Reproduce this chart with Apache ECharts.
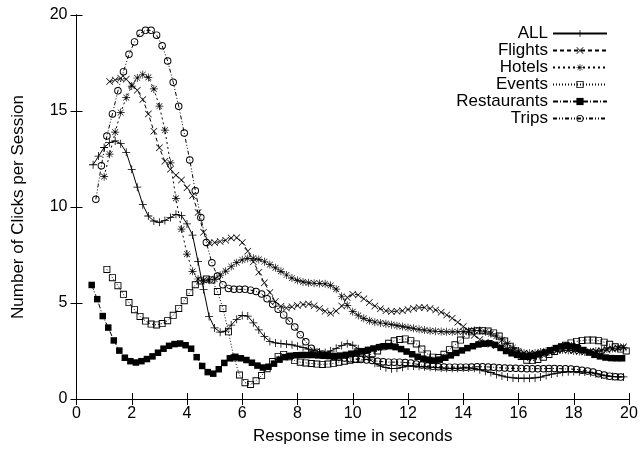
<!DOCTYPE html>
<html>
<head>
<meta charset="utf-8">
<script src="https://cdn.jsdelivr.net/npm/echarts@6/dist/echarts.min.js"></script>
<style>
html,body{margin:0;padding:0;background:#fff;}
#chart{width:642px;height:455px;}
</style>
</head>
<body>
<div id="chart"></div>
<script>
// ---- Data ----
const seriesNames = ['ALL', 'Flights', 'Hotels', 'Events', 'Restaurants', 'Trips'];
const xTicks = [0, 2, 4, 6, 8, 10, 12, 14, 16, 18, 20];
const yTicks = [0, 5, 10, 15, 20];

// Samples are evenly spaced (0.2 s) from each series' first x
const sampleStep = 0.2;
const allStart = 0.6;
const allValues = [12.2,12.65,13.1,13.35,13.44,13.3,12.85,11.96,11.03,10.12,9.53,9.27,9.2,9.3,9.45,9.62,9.55,9.12,8.54,7.15,
5.7,4.3,3.7,3.48,3.53,3.85,4.15,4.35,4.32,3.97,3.6,3.25,3.0,2.92,2.88,2.86,2.82,2.75,2.68,2.6,
2.53,2.45,2.42,2.5,2.64,2.78,2.88,2.8,2.62,2.36,2.08,1.86,1.72,1.63,1.58,1.6,1.66,1.72,1.72,1.7,
1.68,1.66,1.64,1.62,1.6,1.6,1.6,1.62,1.62,1.6,1.52,1.45,1.38,1.28,1.2,1.14,1.1,1.08,1.08,1.08,
1.1,1.14,1.22,1.3,1.35,1.39,1.42,1.43,1.42,1.4,1.37,1.32,1.25,1.2,1.17,1.15,1.15];

const flightsStart = 1.2;
const flightsValues = [16.53,16.62,16.7,16.66,16.37,16.08,15.6,14.85,13.95,13.08,12.38,11.96,11.66,11.4,11.0,10.6,9.72,8.68,8.12,8.15,
8.2,8.27,8.38,8.4,8.15,7.7,7.15,6.6,6.05,5.55,5.08,4.83,4.74,4.8,4.87,4.92,4.95,4.86,4.72,4.57,
4.47,4.58,4.85,5.28,5.46,5.42,5.22,5.02,4.84,4.7,4.6,4.56,4.57,4.6,4.66,4.72,4.76,4.76,4.72,4.63,
4.52,4.38,4.2,4.0,3.78,3.55,3.32,3.1,2.95,2.85,2.78,2.7,2.6,2.5,2.42,2.38,2.36,2.36,2.38,2.42,
2.47,2.52,2.55,2.55,2.52,2.48,2.45,2.45,2.47,2.5,2.55,2.6,2.66,2.72];

const hotelsStart = 1.0;
const hotelsValues = [11.58,12.75,13.9,14.92,15.7,16.3,16.72,16.9,16.75,16.15,15.25,14.0,12.3,10.45,8.85,7.55,6.65,6.25,6.18,6.2,
6.25,6.45,6.66,6.9,7.1,7.25,7.32,7.33,7.27,7.15,7.0,6.83,6.65,6.46,6.3,6.18,6.1,6.05,6.03,6.02,
6.0,5.92,5.72,5.35,4.88,4.55,4.35,4.2,4.08,4.0,3.96,3.92,3.87,3.82,3.77,3.72,3.68,3.63,3.59,3.55,
3.53,3.51,3.5,3.5,3.5,3.51,3.54,3.57,3.58,3.5,3.4,3.28,3.08,2.88,2.68,2.5,2.4,2.38,2.4,2.45,
2.5,2.53,2.55,2.55,2.53,2.5,2.47,2.45,2.46,2.5,2.55,2.6,2.63,2.65,2.68];

const eventsStart = 1.1;
const eventsValues = [6.75,6.32,5.9,5.45,5.02,4.65,4.3,4.06,3.9,3.86,3.93,4.08,4.36,4.72,5.12,5.55,5.95,6.15,6.25,6.2,
5.6,4.72,3.5,2.15,1.25,0.85,0.76,0.95,1.22,1.58,1.95,2.22,2.32,2.2,2.0,1.92,1.88,1.85,1.82,1.8,
1.82,1.86,1.92,1.97,2.02,2.06,2.13,2.22,2.36,2.5,2.72,2.9,3.03,3.1,3.13,3.04,2.87,2.6,2.35,2.18,
2.16,2.33,2.57,2.82,3.07,3.33,3.5,3.55,3.56,3.54,3.44,3.28,3.02,2.75,2.5,2.22,2.02,2.0,2.06,2.18,
2.32,2.48,2.64,2.8,2.92,3.0,3.05,3.07,3.07,3.04,2.96,2.85,2.72,2.6,2.5];

const restaurantsStart = 0.55;
const restaurantsValues = [5.94,5.2,4.32,3.72,3.05,2.52,2.15,1.97,1.9,1.97,2.08,2.22,2.41,2.62,2.77,2.86,2.89,2.8,2.62,2.18,
1.72,1.4,1.32,1.55,1.88,2.12,2.2,2.12,2.03,1.89,1.74,1.64,1.68,1.84,2.05,2.18,2.25,2.28,2.29,2.29,
2.29,2.27,2.25,2.24,2.24,2.26,2.3,2.36,2.42,2.49,2.56,2.63,2.7,2.75,2.75,2.7,2.6,2.47,2.33,2.2,
2.1,2.03,2.0,2.05,2.15,2.27,2.4,2.53,2.65,2.75,2.84,2.88,2.9,2.82,2.66,2.5,2.38,2.3,2.22,2.2,
2.24,2.32,2.42,2.54,2.65,2.74,2.78,2.74,2.65,2.55,2.42,2.3,2.22,2.16,2.13,2.12,2.12];

const tripsStart = 0.7;
const tripsValues = [10.4,12.15,13.7,14.85,16.05,17.05,17.95,18.6,19.05,19.2,19.2,18.95,18.4,17.6,16.5,15.25,13.85,12.45,10.85,9.45,
8.15,7.1,6.4,5.95,5.76,5.72,5.71,5.71,5.67,5.6,5.47,5.22,4.93,4.68,4.38,4.06,3.75,3.35,2.98,2.64,
2.43,2.34,2.27,2.22,2.17,2.13,2.1,2.08,2.06,2.03,2.0,1.97,1.94,1.92,1.92,1.92,1.9,1.87,1.82,1.77,
1.73,1.7,1.68,1.67,1.66,1.66,1.66,1.66,1.67,1.68,1.68,1.67,1.65,1.63,1.61,1.6,1.6,1.59,1.58,1.58,
1.58,1.58,1.59,1.59,1.58,1.57,1.56,1.54,1.5,1.46,1.4,1.32,1.25,1.19,1.16,1.14];

// ---- Build ----
function pairs(start, values) {
  return values.map((v, i) => [Math.round((start + i * sampleStep) * 100) / 100, v]);
}
const FONT = 'Liberation Sans, Arial, Helvetica, sans-serif';
const FS = 16;
const FS_BIG = 17;

const SYM_PLUS = 'path://M0,6.3H14V7.7H0Z M6.3,0H7.7V14H6.3Z';
const SYM_CROSS = 'path://M0,1L1,0L14,13L13,14Z M13,0L14,1L1,14L0,13Z';
const SYM_STAR = 'path://M0,6.4H14V7.6H0Z M6.4,0H7.6V14H6.4Z M1.5,2.3L2.3,1.5L12.5,11.7L11.7,12.5Z M11.7,1.5L12.5,2.3L2.3,12.5L1.5,11.7Z';
const SYM_SQUARE_RING = 'path://M0,0H14V14H0Z M1.8,1.8V12.2H12.2V1.8Z';
const SYM_CIRCLE_RING = 'path://M7,0A7,7 0 1 1 7,14A7,7 0 1 1 7,0Z M7,1.8A5.2,5.2 0 1 0 7,12.2A5.2,5.2 0 1 0 7,1.8Z';

const styles = [
  {start: allStart, values: allValues, symbol: SYM_PLUS, size: 8, dash: 'solid'},
  {start: flightsStart, values: flightsValues, symbol: SYM_CROSS, size: 7, dash: [4, 3]},
  {start: hotelsStart, values: hotelsValues, symbol: SYM_STAR, size: 8, dash: [2, 3]},
  {start: eventsStart, values: eventsValues, symbol: SYM_SQUARE_RING, size: 7, dash: [1, 2]},
  {start: restaurantsStart, values: restaurantsValues, symbol: 'rect', size: 6.5, dash: [5, 2, 1, 2]},
  {start: tripsStart, values: tripsValues, symbol: SYM_CIRCLE_RING, size: 7.5, dash: [4, 2, 1, 2, 1, 2]}
];

const series = seriesNames.map((name, i) => {
  const s = styles[i];
  return {
    name: name,
    type: 'line',
    data: pairs(s.start, s.values),
    symbol: s.symbol,
    symbolSize: s.size,
    showAllSymbol: true,
    animation: false,
    z: 2 + i,
    lineStyle: {color: '#000', width: 1, type: s.dash},
    itemStyle: {color: '#000', borderWidth: 0},
    emphasis: {disabled: true}
  };
});

const legendTops = [31, 48, 65, 82, 99, 116];
const legends = seriesNames.map((name, i) => ({
  data: [name],
  right: 34,
  top: legendTops[i] - 6,
  orient: 'vertical',
  align: 'right',
  itemWidth: 54,
  itemHeight: 9,
  itemGap: 0,
  padding: [0, 0, 0, 0],
  selectedMode: false,
  textStyle: {fontFamily: FONT, fontSize: FS_BIG, color: '#000', padding: [0, 0, 0, 0]}
}));

const axisCommon = {
  type: 'value',
  min: 0,
  max: 20,
  axisLine: {show: true, lineStyle: {color: '#000', width: 1}},
  axisTick: {show: true, inside: true, length: 6, lineStyle: {color: '#000'}},
  splitLine: {show: false}
};

const option = {
  backgroundColor: '#fff',
  animation: false,
  grid: {left: 76.5, right: 13, top: 15, bottom: 56, containLabel: false},
  legend: legends,
  xAxis: [
    Object.assign({}, axisCommon, {
      position: 'bottom', interval: 2,
      name: 'Response time in seconds', nameLocation: 'middle', nameGap: 29,
      nameTextStyle: {fontFamily: FONT, fontSize: FS_BIG, color: '#000'},
      axisLabel: {fontFamily: FONT, fontSize: FS, color: '#000', margin: 7,
        formatter: v => xTicks.includes(v) ? String(v) : ''}
    }),
    Object.assign({}, axisCommon, {position: 'top', interval: 2, axisLabel: {show: false}})
  ],
  yAxis: [
    Object.assign({}, axisCommon, {
      position: 'left', interval: 5,
      name: 'Number of Clicks per Session', nameLocation: 'middle', nameGap: 50,
      nameTextStyle: {fontFamily: FONT, fontSize: FS_BIG, color: '#000'},
      axisLabel: {fontFamily: FONT, fontSize: FS, color: '#000', margin: 9,
        formatter: v => yTicks.includes(v) ? String(v) : ''}
    }),
    Object.assign({}, axisCommon, {position: 'right', interval: 5, axisLabel: {show: false}})
  ],
  series: series
};

const chart = echarts.init(document.getElementById('chart'), null, {renderer: 'canvas'});
chart.setOption(option);
</script>
</body>
</html>
